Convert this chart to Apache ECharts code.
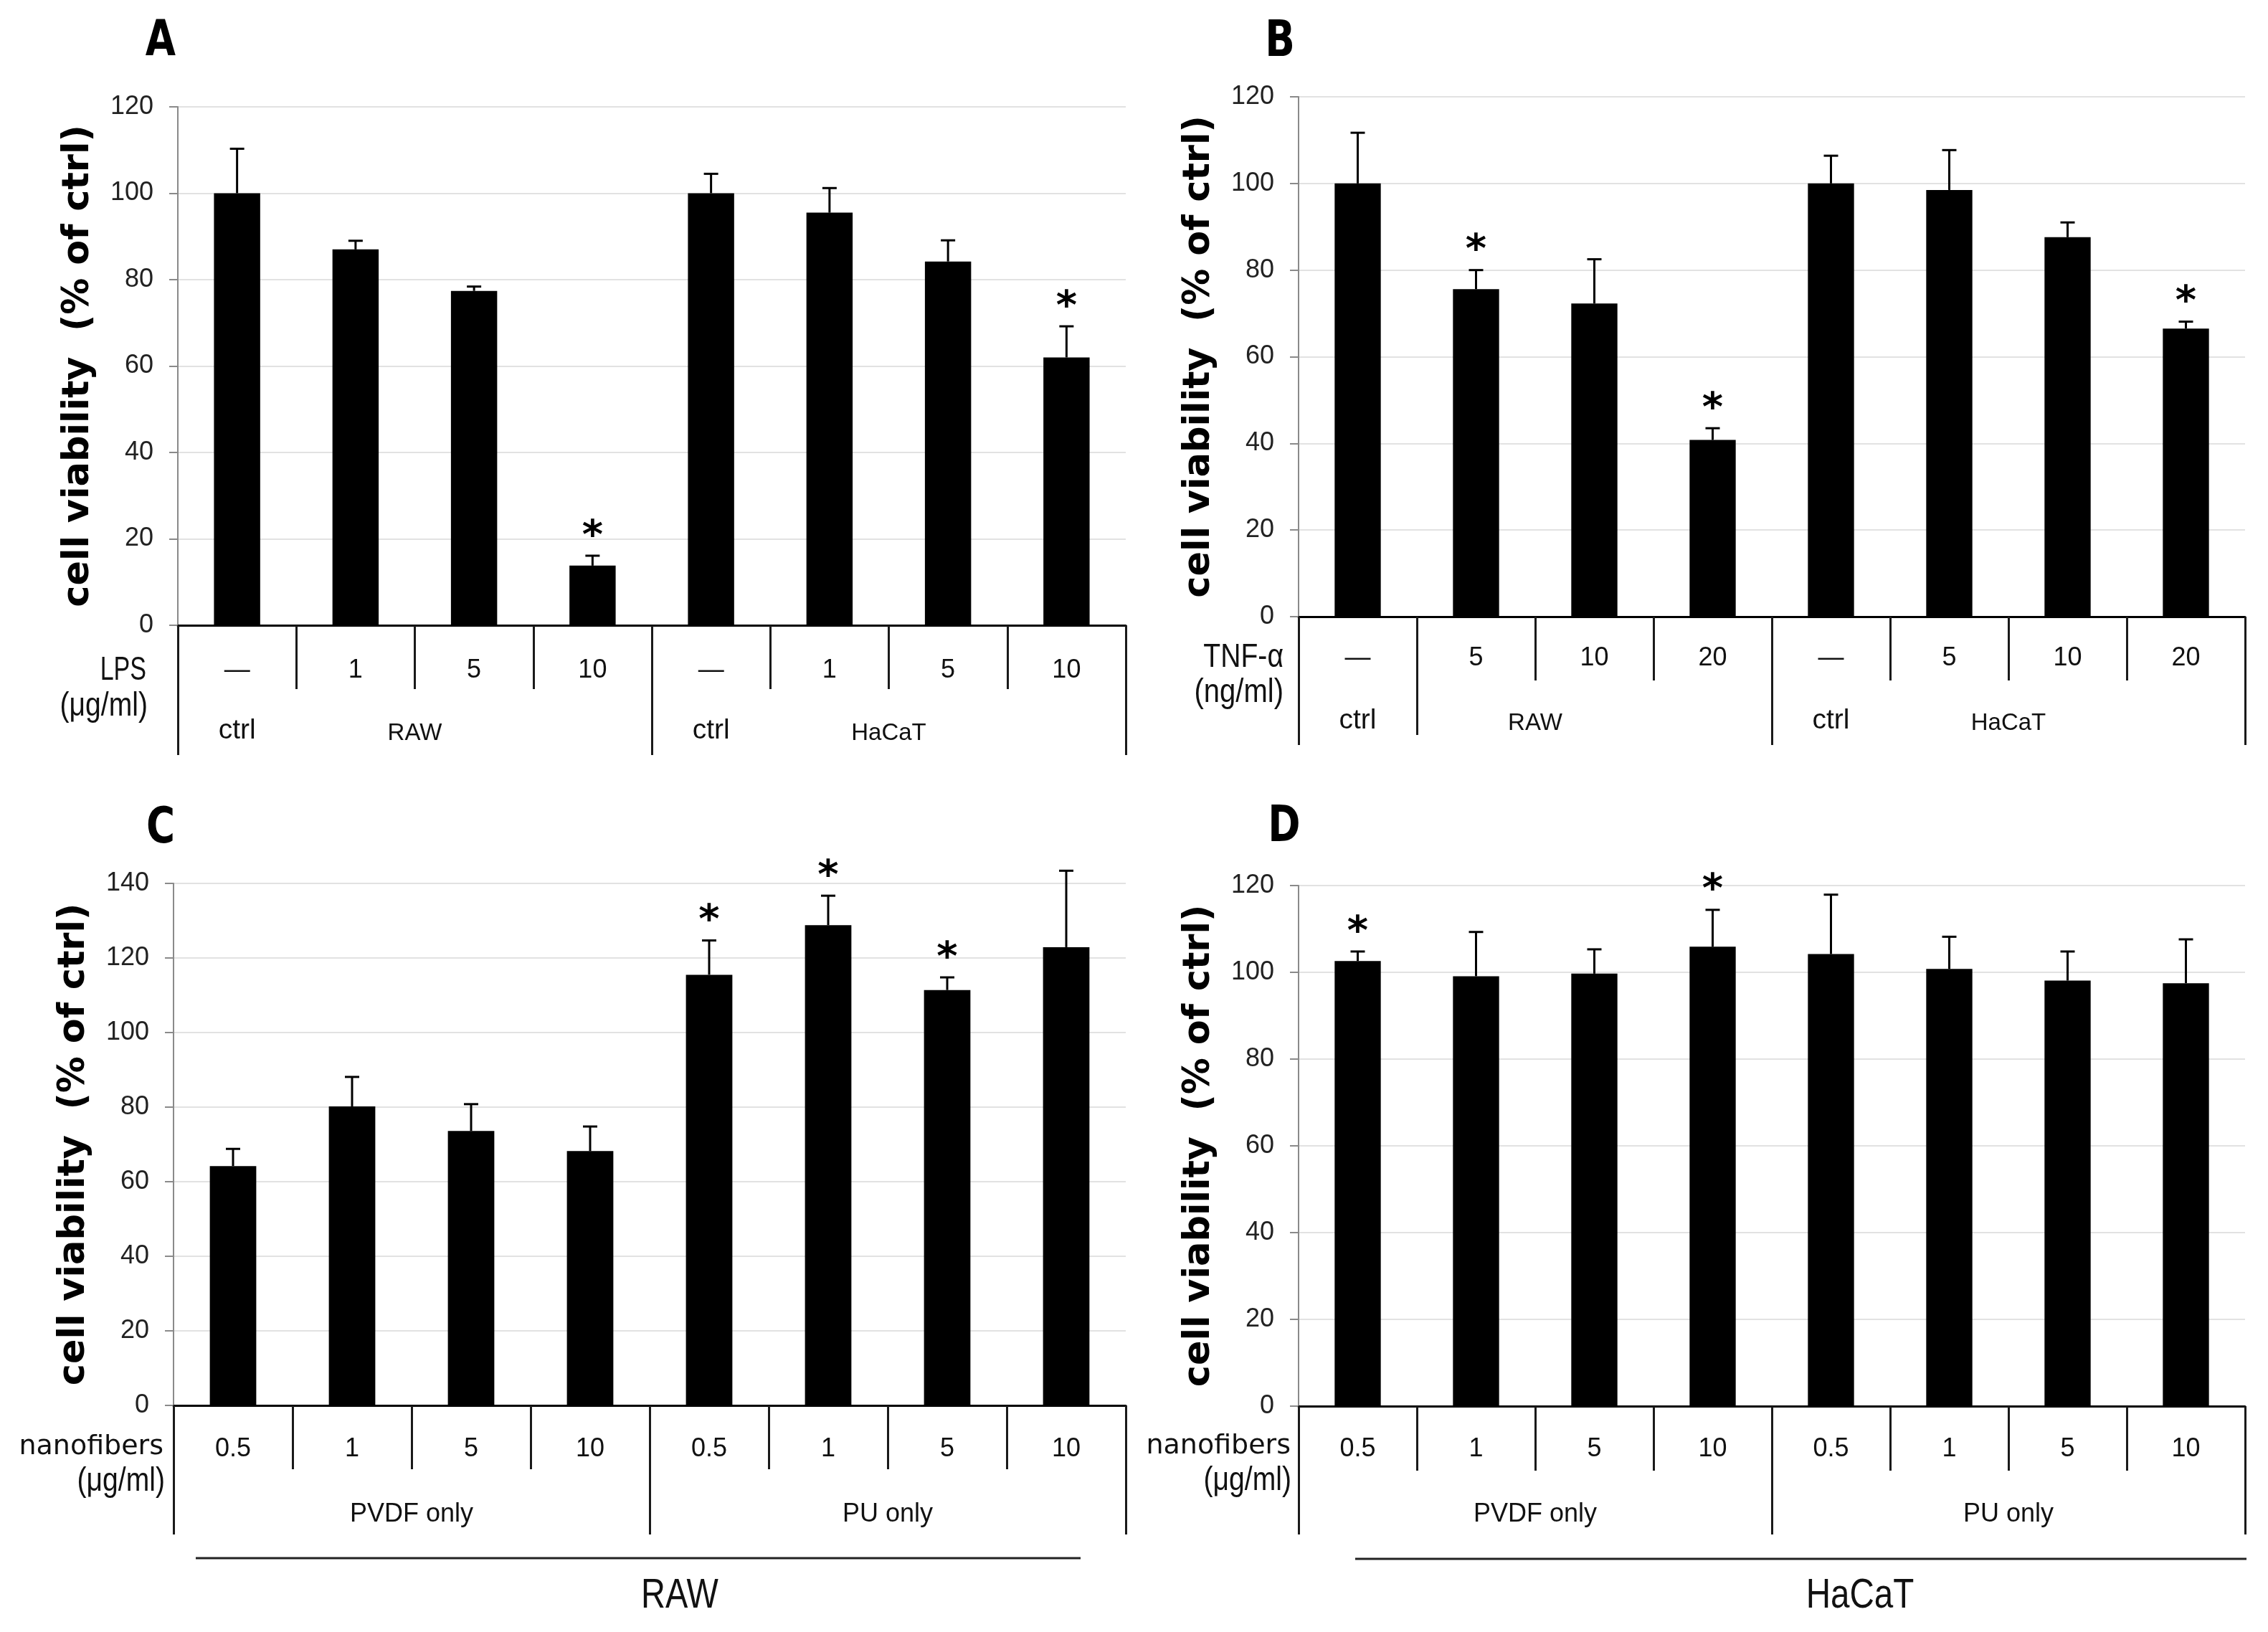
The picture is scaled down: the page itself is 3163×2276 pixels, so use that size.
<!DOCTYPE html>
<html><head><meta charset="utf-8">
<script src="https://cdn.jsdelivr.net/npm/echarts/dist/echarts.min.js"></script>
<style>html,body{margin:0;padding:0;background:#fff}#c{width:3163px;height:2276px}</style>
</head><body><div id="c"></div>
<script>
// ---------------- data ----------------
const dosesA = ['—', '1', '5', '10', '—', '1', '5', '10'];
const groupsA = ['RAW', 'HaCaT'];
const ctrlA = ['ctrl', '', '', '', 'ctrl', '', '', ''];
const meanA = [100, 87, 77.4, 13.8, 100, 95.5, 84.2, 62];
const errTopA = [110.3, 89, 78.4, 16.1, 104.5, 101.2, 89.1, 69.2];
const starA = [0, 0, 0, 1, 0, 0, 0, 1];

const dosesB = ['—', '5', '10', '20', '—', '5', '10', '20'];
const groupsB = ['RAW', 'HaCaT'];
const ctrlB = ['ctrl', '', '', '', 'ctrl', '', '', ''];
const meanB = [100, 75.6, 72.3, 40.8, 100, 98.5, 87.6, 66.5];
const errTopB = [111.7, 80, 82.5, 43.5, 106.4, 107.7, 91, 68.1];
const starB = [0, 1, 0, 1, 0, 0, 0, 1];

const dosesC = ['0.5', '1', '5', '10', '0.5', '1', '5', '10'];
const groupsC = ['PVDF only', 'PU only'];
const meanC = [64.2, 80.2, 73.6, 68.2, 115.5, 128.8, 111.4, 122.9];
const errTopC = [68.8, 88.1, 80.8, 74.8, 124.7, 136.7, 114.8, 143.4];
const starC = [0, 0, 0, 0, 1, 1, 1, 0];

const dosesD = ['0.5', '1', '5', '10', '0.5', '1', '5', '10'];
const groupsD = ['PVDF only', 'PU only'];
const meanD = [102.6, 99.1, 99.7, 105.9, 104.2, 100.8, 98.1, 97.5];
const errTopD = [104.8, 109.3, 105.3, 114.4, 117.9, 108.2, 104.8, 107.6];
const starD = [1, 0, 0, 1, 0, 0, 0, 0];

const yTitle = 'cell viability  (% of ctrl)';

// ---------------- layout ----------------
const REG = '"Liberation Sans", Arial, sans-serif';
const VER = '"DejaVu Sans", Verdana, sans-serif';

const panels = [
  { letter: 'A', lp: [224, 59], doses: dosesA, groups: groupsA, ctrl: ctrlA, mean: meanA, top: errTopA, star: starA, yMax: 120,
    grid: { left: 248, top: 149, width: 1322, height: 723 }, shortLen: 89, longLen: 181, midLen: 0,
    m1: 63, m2: 151, m3: 147, gFont: 33,
    left: [{ t: 'LPS', x: 204, y: 935, f: REG, s: 46, sx: 0.74 }, { t: '(μg/ml)', x: 206, y: 985, f: REG, s: 46, sx: 0.85 }] },
  { letter: 'B', lp: [1785, 60], doses: dosesB, groups: groupsB, ctrl: ctrlB, mean: meanB, top: errTopB, star: starB, yMax: 120,
    grid: { left: 1811, top: 135, width: 1320, height: 725 }, shortLen: 89, longLen: 179, midLen: 165,
    m1: 58, m2: 149, m3: 145, gFont: 33,
    left: [{ t: 'TNF-α', x: 1790, y: 917, f: REG, s: 46, sx: 0.85 }, { t: '(ng/ml)', x: 1790, y: 966, f: REG, s: 46, sx: 0.87 }] },
  { letter: 'C', lp: [224, 1157], doses: dosesC, groups: groupsC, ctrl: null, mean: meanC, top: errTopC, star: starC, yMax: 140,
    grid: { left: 242, top: 1232, width: 1328, height: 728 }, shortLen: 89, longLen: 180, midLen: 0,
    m1: 61, m2: 152, m3: 0, gFont: 36,
    left: [{ t: 'nanofibers', x: 228, y: 2018, f: VER, s: 38, sx: 1 }, { t: '(μg/ml)', x: 230, y: 2066, f: REG, s: 46, sx: 0.85 }],
    bottom: { t: 'RAW', x1: 273, x2: 1507, y: 2173, lx: 948, ly: 2226, sx: 0.81 } },
  { letter: 'D', lp: [1791, 1155], doses: dosesD, groups: groupsD, ctrl: null, mean: meanD, top: errTopD, star: starD, yMax: 120,
    grid: { left: 1811, top: 1235, width: 1320, height: 726 }, shortLen: 90, longLen: 179, midLen: 0,
    m1: 60, m2: 151, m3: 0, gFont: 36,
    left: [{ t: 'nanofibers', x: 1800, y: 2017, f: VER, s: 38, sx: 1 }, { t: '(μg/ml)', x: 1801, y: 2065, f: REG, s: 46, sx: 0.85 }],
    bottom: { t: 'HaCaT', x1: 1890, x2: 3133, y: 2174, lx: 2594, ly: 2226, sx: 0.82 } }
];

const grids = [], xAxes = [], yAxes = [], series = [], graphics = [];

function renderErr(params, api) {
  const x = api.value(0);
  const p0 = api.coord([x, api.value(1)]);
  const p1 = api.coord([x, api.value(2)]);
  const st = { stroke: '#000', lineWidth: 3 };
  const children = [
    { type: 'line', shape: { x1: p0[0], y1: p0[1], x2: p1[0], y2: p1[1] }, style: st },
    { type: 'line', shape: { x1: p1[0] - 10, y1: p1[1], x2: p1[0] + 10, y2: p1[1] }, style: st }
  ];
  if (api.value(3)) {
    children.push({ type: 'text', x: p1[0], y: p1[1] - 26,
      style: { text: '*', fontFamily: VER, fontWeight: 'bold', fontSize: 56, fill: '#000', align: 'center', verticalAlign: 'middle' } });
  }
  return { type: 'group', children };
}

panels.forEach((p, g) => {
  grids.push(Object.assign({ containLabel: false, outerBoundsMode: 'none' }, p.grid));
  yAxes.push({
    type: 'value', gridIndex: g, min: 0, max: p.yMax, interval: 20,
    axisLine: { show: true, lineStyle: { color: '#8a8a8a', width: 2 } },
    axisTick: { show: true, length: 12, lineStyle: { color: '#8a8a8a', width: 2 } },
    axisLabel: { margin: 34, fontSize: 36, fontFamily: REG, color: '#222' },
    splitLine: { show: true, lineStyle: { color: '#e2e2e2', width: 2 } }
  });
  const xi0 = xAxes.length;
  xAxes.push({
    type: 'category', gridIndex: g, data: p.doses, position: 'bottom',
    axisLine: { show: true, onZero: false, lineStyle: { color: '#000', width: 3 } },
    axisTick: { show: true, interval: 0, length: p.shortLen, lineStyle: { color: '#1a1a1a', width: 3 } },
    axisLabel: { interval: 0, margin: p.m1, fontSize: 36, fontFamily: REG, color: '#111', verticalAlign: 'middle' },
    splitLine: { show: false }
  });
  xAxes.push({
    type: 'category', gridIndex: g, data: p.groups, position: 'bottom',
    axisLine: { show: false, onZero: false },
    axisTick: { show: true, interval: 0, length: p.longLen, lineStyle: { color: '#1a1a1a', width: 3 } },
    axisLabel: { interval: 0, margin: p.m2, fontSize: p.gFont, fontFamily: REG, color: '#111', verticalAlign: 'middle' },
    splitLine: { show: false }
  });
  if (p.ctrl) {
    xAxes.push({
      type: 'category', gridIndex: g, data: p.ctrl, position: 'bottom',
      axisLine: { show: false, onZero: false },
      axisTick: p.midLen ? { show: true, interval: (i) => i <= 1, length: p.midLen, lineStyle: { color: '#1a1a1a', width: 3 } } : { show: false },
      axisLabel: { interval: 0, margin: p.m3, fontSize: 39, fontFamily: REG, color: '#111', verticalAlign: 'middle' },
      splitLine: { show: false }
    });
  }
  series.push({
    type: 'bar', xAxisIndex: xi0, yAxisIndex: g, data: p.mean, barWidth: '39%',
    itemStyle: { color: '#000' }, silent: true
  });
  series.push({
    type: 'custom', xAxisIndex: xi0, yAxisIndex: g, z: 5, silent: true,
    encode: { x: 0, y: [1, 2] },
    data: p.mean.map((v, i) => [i, v, p.top[i], p.star[i]]),
    renderItem: renderErr
  });
  // panel letter
  graphics.push({ type: 'text', x: p.lp[0], y: p.lp[1], scaleX: 0.78,
    style: { text: p.letter, fontFamily: VER, fontWeight: 'bold', fontSize: 70, fill: '#000', align: 'center', verticalAlign: 'middle' } });
  // y title
  graphics.push({ type: 'text', x: p.grid.left - 138, y: p.grid.top + p.grid.height / 2, rotation: Math.PI / 2,
    style: { text: yTitle, fontFamily: VER, fontWeight: 'bold', fontSize: 51, fill: '#000', align: 'center', verticalAlign: 'middle' } });
  // left row labels
  p.left.forEach(l => graphics.push({ type: 'text', x: l.x, y: l.y, scaleX: l.sx,
    style: { text: l.t, fontFamily: l.f, fontSize: l.s, fill: '#111', align: 'right', verticalAlign: 'middle' } }));
  if (p.bottom) {
    const b = p.bottom;
    graphics.push({ type: 'line', shape: { x1: b.x1, y1: b.y, x2: b.x2, y2: b.y }, style: { stroke: '#222', lineWidth: 3 } });
    graphics.push({ type: 'text', x: b.lx, y: b.ly, scaleX: b.sx,
      style: { text: b.t, fontFamily: REG, fontSize: 58, fill: '#111', align: 'center', verticalAlign: 'middle' } });
  }
});

const chart = echarts.init(document.getElementById('c'), null, { renderer: 'canvas' });
chart.setOption({
  backgroundColor: '#fff',
  animation: false,
  grid: grids, xAxis: xAxes, yAxis: yAxes, series: series, graphic: graphics
});
</script></body></html>
